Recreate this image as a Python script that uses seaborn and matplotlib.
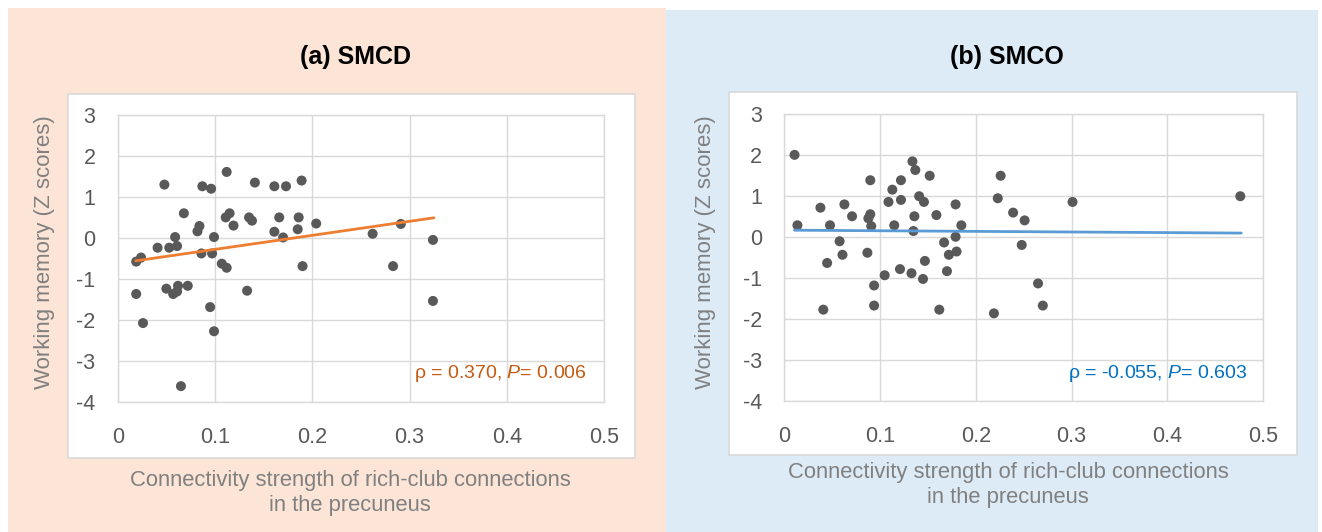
import matplotlib
matplotlib.use("Agg")
import matplotlib.pyplot as plt
import seaborn as sns
import pandas as pd
from matplotlib.patches import Rectangle

# ---------------- data ----------------
smcd_x = [0.048, 0.087, 0.096, 0.112, 0.141, 0.161, 0.173, 0.189,
          0.068, 0.084, 0.082, 0.111, 0.115, 0.119, 0.135, 0.138, 0.166, 0.186,
          0.185, 0.161, 0.170, 0.204, 0.059,
          0.041, 0.053, 0.061, 0.099, 0.086, 0.097,
          0.019, 0.024, 0.107, 0.112, 0.190,
          0.019, 0.050, 0.057, 0.062, 0.061, 0.072, 0.133,
          0.026, 0.095, 0.099, 0.065,
          0.262, 0.291, 0.324, 0.283, 0.324]
smcd_y = [1.30, 1.26, 1.20, 1.61, 1.35, 1.26, 1.26, 1.40,
          0.60, 0.29, 0.16, 0.50, 0.60, 0.30, 0.50, 0.42, 0.50, 0.50,
          0.21, 0.15, 0.01, 0.35, 0.02,
          -0.24, -0.24, -0.20, 0.02, -0.38, -0.38,
          -0.58, -0.48, -0.63, -0.73, -0.69,
          -1.37, -1.24, -1.37, -1.17, -1.31, -1.17, -1.29,
          -2.08, -1.69, -2.28, -3.62,
          0.10, 0.34, -0.05, -0.69, -1.54]
smcd_trend_x = [0.0185, 0.325]
smcd_trend_y = [-0.56, 0.49]

smco_x = [0.011, 0.014, 0.038, 0.048, 0.063, 0.071, 0.058, 0.061, 0.045, 0.041,
          0.090, 0.090, 0.088, 0.091, 0.087, 0.094, 0.094, 0.105, 0.109, 0.113,
          0.122, 0.122, 0.115, 0.121, 0.134, 0.137, 0.141, 0.146, 0.136, 0.135,
          0.133, 0.147, 0.145, 0.152, 0.159, 0.162, 0.167, 0.172, 0.170, 0.179,
          0.179, 0.180, 0.185, 0.226, 0.223, 0.219, 0.239, 0.251, 0.248, 0.265,
          0.270, 0.301, 0.476]
smco_y = [2.01, 0.29, 0.72, 0.29, 0.80, 0.51, -0.10, -0.43, -0.63, -1.77,
          1.39, 0.56, 0.46, 0.27, -0.38, -1.18, -1.67, -0.93, 0.86, 1.16,
          1.39, 0.91, 0.29, -0.78, 1.85, 1.64, 1.00, 0.86, 0.51, 0.15,
          -0.88, -0.58, -1.02, 1.50, 0.54, -1.77, -0.13, -0.43, -0.83, 0.80,
          0.01, -0.35, 0.29, 1.50, 0.95, -1.86, 0.60, 0.41, -0.19, -1.13,
          -1.67, 0.86, 1.00]
smco_trend_x = [0.011, 0.477]
smco_trend_y = [0.17, 0.10]

x_ticks = [0, 0.1, 0.2, 0.3, 0.4, 0.5]
x_tick_labels = ["0", "0.1", "0.2", "0.3", "0.4", "0.5"]
y_ticks = [-4, -3, -2, -1, 0, 1, 2, 3]
y_tick_labels = ["-4", "-3", "-2", "-1", "0", "1", "2", "3"]

titles = ["(a) SMCD", "(b) SMCO"]
stats_text = ["ρ = 0.370, $\\it{P}$= 0.006", "ρ = -0.055, $\\it{P}$= 0.603"]
x_label = "Connectivity strength of rich-club connections\nin the precuneus"
y_label = "Working memory (Z scores)"

# ---------------- style ----------------
sns.set_theme(style="white")
plt.rcParams["font.family"] = ["Liberation Sans", "DejaVu Sans"]
plt.rcParams["mathtext.fontset"] = "custom"
plt.rcParams["mathtext.it"] = "Liberation Sans:italic"
plt.rcParams["mathtext.rm"] = "Liberation Sans"

W, H = 1322, 532
fig = plt.figure(figsize=(W / 100, H / 100), dpi=100)
fig.patch.set_facecolor("white")

def fx(px):
    return px / W

def fy(py):
    return 1 - py / H

# panel backgrounds
fig.patches.append(Rectangle((fx(8), 0), fx(666) - fx(8), fy(8), transform=fig.transFigure,
                             facecolor="#FCE4D6", edgecolor="none", zorder=0))
fig.patches.append(Rectangle((fx(666), 0), fx(1318) - fx(666), fy(10), transform=fig.transFigure,
                             facecolor="#DDEBF7", edgecolor="none", zorder=0))
# white chart boxes
fig.patches.append(Rectangle((fx(68), fy(458)), fx(635) - fx(68), fy(94) - fy(458),
                             transform=fig.transFigure, facecolor="white",
                             edgecolor="#D9D9D9", linewidth=1.2, zorder=1))
fig.patches.append(Rectangle((fx(729), fy(455)), fx(1297) - fx(729), fy(92) - fy(455),
                             transform=fig.transFigure, facecolor="white",
                             edgecolor="#D9D9D9", linewidth=1.2, zorder=1))

panels = [
    dict(x=smcd_x, y=smcd_y, tx=smcd_trend_x, ty=smcd_trend_y, line="#ED7D31",
         stat="#C55A11", ax=(117.7, 115, 604.2, 401.7), title_x=355, ylab_x=45,
         xlab_x=350, xlab_y=493, stat_x=587),
    dict(x=smco_x, y=smco_y, tx=smco_trend_x, ty=smco_trend_y, line="#5B9BD5",
         stat="#0070C0", ax=(784, 114.3, 1263.3, 401), title_x=1007, ylab_x=706,
         xlab_x=1008, xlab_y=485, stat_x=1247),
]

for i, p in enumerate(panels):
    l, t, r, b = p["ax"]
    ax = fig.add_axes([fx(l), fy(b), fx(r) - fx(l), fy(t) - fy(b)])
    ax.set_facecolor("white")
    ax.set_zorder(2)
    df = pd.DataFrame({"x": p["x"], "y": p["y"]})
    sns.scatterplot(data=df, x="x", y="y", ax=ax, color="#595959", s=52,
                    edgecolor="none", linewidth=0, zorder=3)
    dt = pd.DataFrame({"x": p["tx"], "y": p["ty"]})
    sns.lineplot(data=dt, x="x", y="y", ax=ax, color=p["line"], linewidth=2.0, zorder=4)
    ax.set_xlim(0, 0.5)
    ax.set_ylim(-4, 3)
    ax.set_xticks(x_ticks)
    ax.set_xticklabels(x_tick_labels)
    ax.set_yticks(y_ticks)
    ax.set_yticklabels(y_tick_labels)
    ax.grid(True, color="#D9D9D9", linewidth=1.0)
    ax.set_axisbelow(True)
    for s in ax.spines.values():
        s.set_color("#D9D9D9")
        s.set_linewidth(1.0)
    ax.tick_params(axis="both", length=0, labelsize=15.5, labelcolor="#595959")
    ax.tick_params(axis="x", pad=18)
    ax.tick_params(axis="y", pad=16)
    ax.set_xlabel("")
    ax.set_ylabel("")
    ax.text((p["stat_x"] - l) / (r - l), (b - 373) / (b - t), stats_text[i],
            transform=ax.transAxes, ha="right", va="center", fontsize=14, color=p["stat"])

    fig.text(fx(p["title_x"]), fy(57), titles[i], ha="center", va="center",
             fontsize=18, fontweight="bold", color="black")
    fig.text(fx(p["ylab_x"]), fy(252), y_label, rotation=90, ha="center", va="center",
             fontsize=16, color="#808080")
    fig.text(fx(p["xlab_x"]), fy(p["xlab_y"]), x_label, ha="center", va="center",
             fontsize=15.8, color="#808080", linespacing=1.3)

fig.savefig("out.png", dpi=100, facecolor="white")
